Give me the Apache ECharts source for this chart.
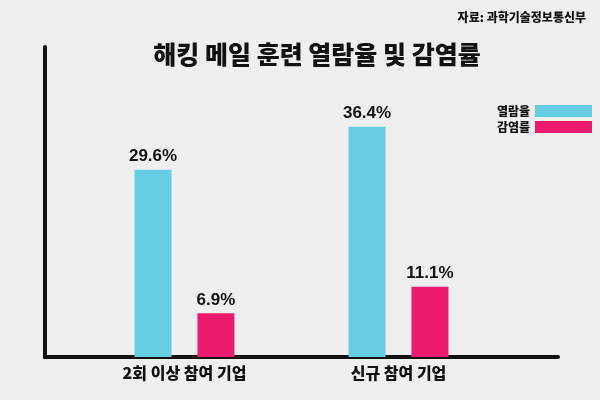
<!DOCTYPE html>
<html>
<head>
<meta charset="utf-8">
<script src="https://cdn.jsdelivr.net/npm/echarts@6/dist/echarts.min.js"></script>
<style>
html,body{margin:0;padding:0;background:#efefef;}
#c{width:600px;height:400px;}
</style>
</head>
<body>
<div id="c"></div>
<script>
const categories = ['2회 이상 참여 기업', '신규 참여 기업'];
const seriesNames = ['열람율', '감염률'];
const openRate = [29.6, 36.4];
const infectRate = [6.9, 11.1];
const colors = ['#67cde2', '#ec1b6e'];

const KR = '"Noto Sans CJK KR", "Noto Sans", sans-serif';
const LAT = '"Liberation Sans", Arial, sans-serif';

const chart = echarts.init(document.getElementById('c'), null, {renderer: 'canvas'});

const valueLabel = {
  show: true, position: 'top', distance: 5,
  formatter: p => p.value.toFixed(1) + '%',
  fontFamily: LAT, fontWeight: 'bold', fontSize: 17, color: '#111'
};

chart.setOption({
  backgroundColor: '#efefef',
  animation: false,
  title: [
    {text: '해킹 메일 훈련 열람율 및 감염률', left: 312, top: 37, textAlign: 'center',
     textStyle: {fontFamily: KR, fontWeight: 900, fontSize: 25, color: '#111'}},
    {text: '자료: 과학기술정보통신부', right: 9, top: 6,
     textStyle: {fontFamily: KR, fontWeight: 900, fontSize: 12, color: '#111'}}
  ],
  legend: {
    data: seriesNames, orient: 'vertical', right: 3, top: 100, align: 'right',
    itemWidth: 57, itemHeight: 12, itemGap: 4, icon: 'rect',
    textStyle: {fontFamily: KR, fontWeight: 900, fontSize: 12, color: '#111', padding: [0, 0, 0, 0]}
  },
  grid: [
    {left: 45, right: 42, top: 47, bottom: 43},
    {left: 77.5, right: 94.5, top: 47, bottom: 43}
  ],
  xAxis: [
    {type: 'category', gridIndex: 0, data: categories,
     axisLine: {show: true, lineStyle: {color: '#111', width: 4}},
     axisTick: {show: false}, axisLabel: {show: false}},
    {type: 'category', gridIndex: 1, data: categories,
     axisLine: {show: false}, axisTick: {show: false},
     axisLabel: {show: true, margin: 8, fontFamily: KR, fontWeight: 900, fontSize: 16, color: '#111'}}
  ],
  yAxis: [
    {type: 'value', gridIndex: 0, min: 0, max: 49,
     axisLine: {show: true, lineStyle: {color: '#111', width: 4}},
     axisTick: {show: false}, axisLabel: {show: false}, splitLine: {show: false}},
    {type: 'value', gridIndex: 1, min: 0, max: 49, show: false, splitLine: {show: false}}
  ],
  series: [
    {name: seriesNames[0], type: 'bar', xAxisIndex: 1, yAxisIndex: 1, data: openRate,
     barWidth: 37, barGap: '70%', itemStyle: {color: colors[0]}, label: valueLabel},
    {name: seriesNames[1], type: 'bar', xAxisIndex: 1, yAxisIndex: 1, data: infectRate,
     barWidth: 37, barGap: '70%', itemStyle: {color: colors[1]}, label: valueLabel}
  ]
});
</script>
</body>
</html>
